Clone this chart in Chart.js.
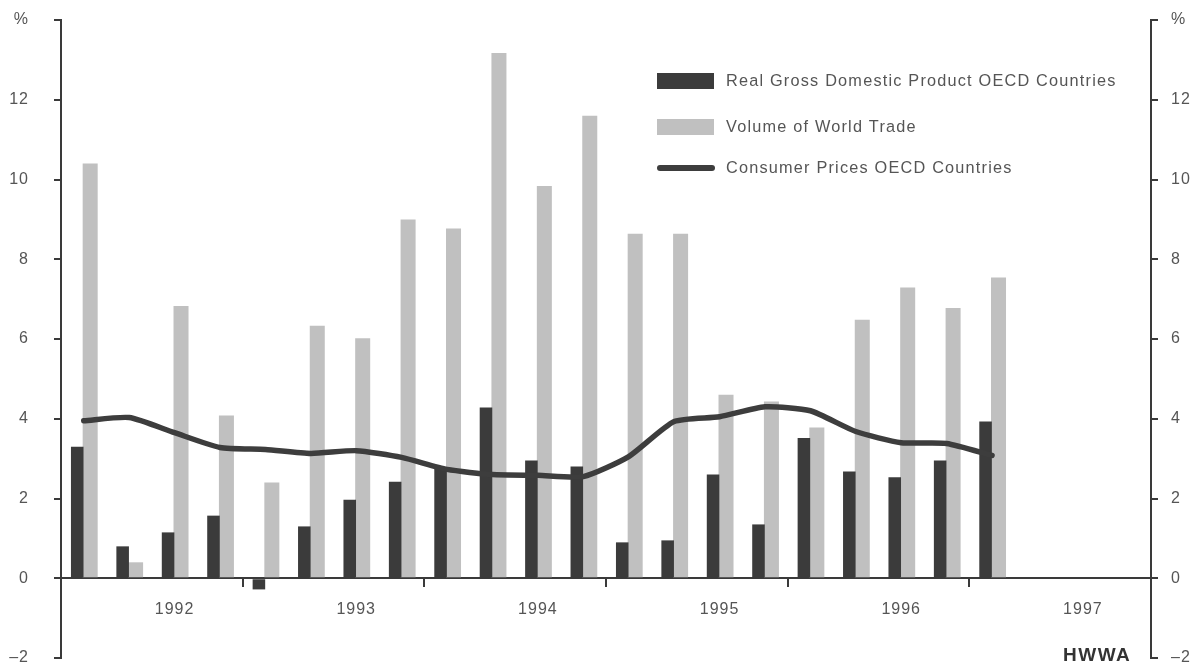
<!DOCTYPE html>
<html>
<head>
<meta charset="utf-8">
<script src="https://cdn.jsdelivr.net/npm/chart.js@4.4.1/dist/chart.umd.min.js"></script>
<style>
  html, body { margin: 0; padding: 0; background: #fff; overflow: hidden; }
  #wrap { width: 1199px; height: 663px; overflow: hidden; }
</style>
</head>
<body>
<div id="wrap"><canvas id="chart" width="1199" height="672"></canvas></div>
<script>
// quarterly data, 1992 I - 1997 I (1997 II-IV empty)
const quarters = [
  '1992 I', '1992 II', '1992 III', '1992 IV',
  '1993 I', '1993 II', '1993 III', '1993 IV',
  '1994 I', '1994 II', '1994 III', '1994 IV',
  '1995 I', '1995 II', '1995 III', '1995 IV',
  '1996 I', '1996 II', '1996 III', '1996 IV',
  '1997 I', '1997 II', '1997 III', '1997 IV'
];
const yearLabels = ['1992', '1993', '1994', '1995', '1996', '1997'];

const gdp = [3.3, 0.8, 1.15, 1.57, -0.28, 1.3, 1.97, 2.42,
  2.78, 4.28, 2.95, 2.8, 0.9, 0.95, 2.6, 1.35,
  3.52, 2.68, 2.53, 2.95, 3.93];
const worldTrade = [10.4, 0.4, 6.83, 4.08, 2.4, 6.33, 6.02, 9.0,
  8.77, 13.17, 9.84, 11.6, 8.64, 8.64, 4.6, 4.43,
  3.78, 6.48, 7.29, 6.78, 7.54];
const consumerPrices = [3.95, 4.03, 3.65, 3.28, 3.23, 3.13, 3.2, 3.03,
  2.73, 2.6, 2.58, 2.55, 3.05, 3.93, 4.05, 4.3,
  4.2, 3.68, 3.4, 3.38, 3.08];

const yMin = -2, yMax = 14, yStep = 2;

const axisColor = '#3a3a3a';
const textColor = '#555';

Chart.defaults.font.family = '"Liberation Sans", Arial, sans-serif';
Chart.defaults.font.size = 16;
Chart.defaults.color = textColor;

function yLabel(v) {
  if (v === yMax) return '%';
  if (v < 0) return '\u2013' + Math.abs(v);
  return v;
}

function yAxis(position, width, pad) {
  return {
    type: 'linear',
    position: position,
    min: yMin,
    max: yMax,
    afterFit: s => {
      s.width = width;
      s.paddingTop = 0;
      s.paddingBottom = 0;
    },
    border: { display: true, color: axisColor, width: 2 },
    grid: { drawOnChartArea: false, drawTicks: true, tickLength: 7, lineWidth: 2, color: axisColor },
    ticks: { stepSize: yStep, padding: pad, callback: yLabel, color: textColor }
  };
}

const letterSpacing = {
  id: 'letterSpacing',
  beforeDraw(chart) { chart.ctx.letterSpacing = '1px'; }
};

const boxLegend = {
  id: 'boxLegend',
  afterDraw(chart) {
    const ctx = chart.ctx;
    const ds = chart.data.datasets;
    const rows = [
      { d: ds.find(d => d.label.startsWith('Real')), y: 81 },
      { d: ds.find(d => d.label.startsWith('Volume')), y: 127 },
      { d: ds.find(d => d.label.startsWith('Consumer')), y: 168 }
    ];
    ctx.save();
    ctx.letterSpacing = '1.2px';
    rows.forEach(r => {
      if (r.d.type === 'line') {
        ctx.strokeStyle = r.d.borderColor;
        ctx.lineWidth = 6;
        ctx.lineCap = 'round';
        ctx.beginPath();
        ctx.moveTo(660, r.y);
        ctx.lineTo(712, r.y);
        ctx.stroke();
      } else {
        ctx.fillStyle = r.d.backgroundColor;
        ctx.fillRect(657, r.y - 8, 57, 16);
      }
      ctx.fillStyle = textColor;
      ctx.font = '16.3px "Liberation Sans", Arial, sans-serif';
      ctx.textBaseline = 'middle';
      ctx.textAlign = 'left';
      ctx.fillText(r.d.label, 726, r.y + 1);
    });
    ctx.fillStyle = '#333';
    ctx.font = 'bold 19px "Liberation Sans", Arial, sans-serif';
    ctx.letterSpacing = '1.5px';
    ctx.textBaseline = 'middle';
    ctx.fillText('HWWA', 1063, 656);
    ctx.restore();
  }
};

new Chart(document.getElementById('chart'), {
  type: 'bar',
  data: {
    labels: quarters,
    datasets: [
      {
        type: 'line',
        label: 'Consumer Prices OECD Countries',
        data: consumerPrices,
        borderColor: '#3d3d3d',
        borderWidth: 5.5,
        pointRadius: 0,
        tension: 0.2,
        borderCapStyle: 'round',
        borderJoinStyle: 'round',
        fill: false,
        order: 0
      },
      {
        label: 'Real Gross Domestic Product OECD Countries',
        data: gdp,
        backgroundColor: '#3b3b3b',
        categoryPercentage: 0.57,
        barPercentage: 0.97,
        order: 1
      },
      {
        label: 'Volume of World Trade',
        data: worldTrade,
        backgroundColor: '#c0c0c0',
        categoryPercentage: 0.57,
        barPercentage: 1.16,
        order: 2
      }
    ]
  },
  options: {
    responsive: false,
    animation: false,
    layout: { padding: { top: 20, bottom: 14, left: 0, right: 0 } },
    plugins: { legend: { display: false }, tooltip: { enabled: false } },
    scales: {
      x: {
        position: { y: 0 },
        offset: true,
        afterFit: s => { s.height = 0; },
        border: { display: true, color: axisColor, width: 2 },
        grid: {
          offset: true,
          drawOnChartArea: false,
          drawTicks: true,
          tickLength: 8,
          lineWidth: 2,
          color: c => (c.index > 0 && c.index % 4 === 0) ? axisColor : 'rgba(0,0,0,0)'
        },
        ticks: {
          autoSkip: false,
          maxRotation: 0,
          padding: 14,
          color: textColor,
          callback: (v, i) => i % 4 === 2 ? yearLabels[Math.floor(i / 4)] : ''
        }
      },
      y: yAxis('left', 61, 25),
      y2: yAxis('right', 48, 13)
    }
  },
  plugins: [letterSpacing, boxLegend]
});
</script>
</body>
</html>
